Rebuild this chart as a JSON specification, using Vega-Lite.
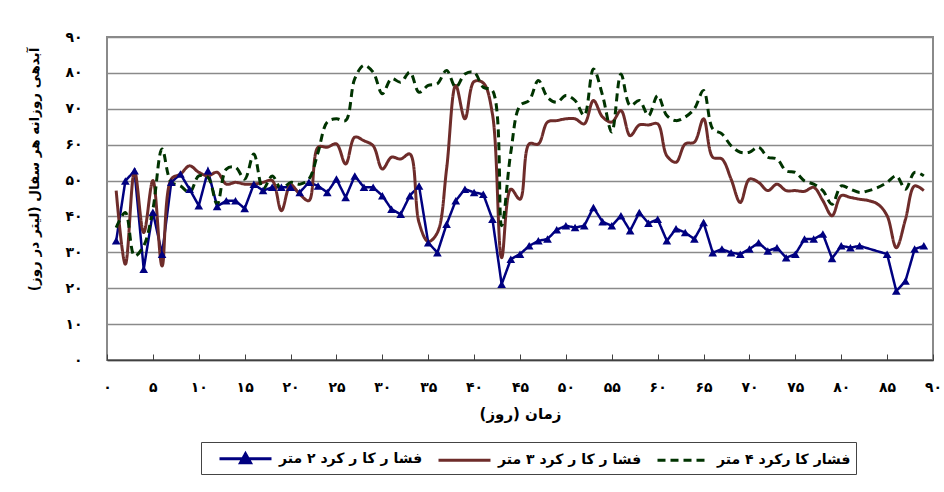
{
"$schema": "https://vega.github.io/schema/vega-lite/v6.json",
"width": 826, "height": 323,
"autosize": {"type": "none"},
"padding": {"left": 107, "top": 37, "right": 11, "bottom": 132},
"background": "white",
"config": {
  "locale": {"number": {"decimal": ".", "thousands": ",", "grouping": [3], "currency": ["", ""], "numerals": ["۰","۱","۲","۳","۴","۵","۶","۷","۸","۹"]}},
  "view": {"stroke": "#8a8a8a", "strokeWidth": 2},
  "font": "DejaVu Sans"
},
"data": {"values": [
{"day":1,"series":"فشا ر کا ر کرد ۲ متر","value":33.2},{"day":2,"series":"فشا ر کا ر کرد ۲ متر","value":49.9},{"day":3,"series":"فشا ر کا ر کرد ۲ متر","value":52.7},{"day":4,"series":"فشا ر کا ر کرد ۲ متر","value":25.3},{"day":5,"series":"فشا ر کا ر کرد ۲ متر","value":41.2},{"day":6,"series":"فشا ر کا ر کرد ۲ متر","value":29.5},{"day":7,"series":"فشا ر کا ر کرد ۲ متر","value":49.5},{"day":8,"series":"فشا ر کا ر کرد ۲ متر","value":51.8},{"day":9,"series":"فشا ر کا ر کرد ۲ متر","value":47.6},{"day":10,"series":"فشا ر کا ر کرد ۲ متر","value":43},
{"day":11,"series":"فشا ر کا ر کرد ۲ متر","value":52.7},{"day":12,"series":"فشا ر کا ر کرد ۲ متر","value":42.8},{"day":13,"series":"فشا ر کا ر کرد ۲ متر","value":44.4},{"day":14,"series":"فشا ر کا ر کرد ۲ متر","value":44.4},{"day":15,"series":"فشا ر کا ر کرد ۲ متر","value":42.2},{"day":16,"series":"فشا ر کا ر کرد ۲ متر","value":49},{"day":17,"series":"فشا ر کا ر کرد ۲ متر","value":47.2},{"day":18,"series":"فشا ر کا ر کرد ۲ متر","value":48.1},{"day":19,"series":"فشا ر کا ر کرد ۲ متر","value":48.1},{"day":20,"series":"فشا ر کا ر کرد ۲ متر","value":48.1},
{"day":21,"series":"فشا ر کا ر کرد ۲ متر","value":46.7},{"day":22,"series":"فشا ر کا ر کرد ۲ متر","value":49.5},{"day":23,"series":"فشا ر کا ر کرد ۲ متر","value":48.5},{"day":24,"series":"فشا ر کا ر کرد ۲ متر","value":46.7},{"day":25,"series":"فشا ر کا ر کرد ۲ متر","value":50.4},{"day":26,"series":"فشا ر کا ر کرد ۲ متر","value":45.3},{"day":27,"series":"فشا ر کا ر کرد ۲ متر","value":51.3},{"day":28,"series":"فشا ر کا ر کرد ۲ متر","value":48.1},{"day":29,"series":"فشا ر کا ر کرد ۲ متر","value":48.1},{"day":30,"series":"فشا ر کا ر کرد ۲ متر","value":45.8},
{"day":31,"series":"فشا ر کا ر کرد ۲ متر","value":42},{"day":32,"series":"فشا ر کا ر کرد ۲ متر","value":40.6},{"day":33,"series":"فشا ر کا ر کرد ۲ متر","value":45.8},{"day":34,"series":"فشا ر کا ر کرد ۲ متر","value":48.5},{"day":35,"series":"فشا ر کا ر کرد ۲ متر","value":32.7},{"day":36,"series":"فشا ر کا ر کرد ۲ متر","value":29.9},{"day":37,"series":"فشا ر کا ر کرد ۲ متر","value":37.8},{"day":38,"series":"فشا ر کا ر کرد ۲ متر","value":44.4},{"day":39,"series":"فشا ر کا ر کرد ۲ متر","value":47.6},{"day":40,"series":"فشا ر کا ر کرد ۲ متر","value":46.7},
{"day":41,"series":"فشا ر کا ر کرد ۲ متر","value":46.2},{"day":42,"series":"فشا ر کا ر کرد ۲ متر","value":39.2},{"day":43,"series":"فشا ر کا ر کرد ۲ متر","value":21.1},{"day":44,"series":"فشا ر کا ر کرد ۲ متر","value":28.1},{"day":45,"series":"فشا ر کا ر کرد ۲ متر","value":29.5},{"day":46,"series":"فشا ر کا ر کرد ۲ متر","value":31.8},{"day":47,"series":"فشا ر کا ر کرد ۲ متر","value":33.2},{"day":48,"series":"فشا ر کا ر کرد ۲ متر","value":33.7},{"day":49,"series":"فشا ر کا ر کرد ۲ متر","value":36.3},{"day":50,"series":"فشا ر کا ر کرد ۲ متر","value":37.4},
{"day":51,"series":"فشا ر کا ر کرد ۲ متر","value":36.9},{"day":52,"series":"فشا ر کا ر کرد ۲ متر","value":37.4},{"day":53,"series":"فشا ر کا ر کرد ۲ متر","value":42.5},{"day":54,"series":"فشا ر کا ر کرد ۲ متر","value":38.5},{"day":55,"series":"فشا ر کا ر کرد ۲ متر","value":37.4},{"day":56,"series":"فشا ر کا ر کرد ۲ متر","value":40.2},{"day":57,"series":"فشا ر کا ر کرد ۲ متر","value":36},{"day":58,"series":"فشا ر کا ر کرد ۲ متر","value":41.1},{"day":59,"series":"فشا ر کا ر کرد ۲ متر","value":38.1},{"day":60,"series":"فشا ر کا ر کرد ۲ متر","value":39.2},
{"day":61,"series":"فشا ر کا ر کرد ۲ متر","value":33.2},{"day":62,"series":"فشا ر کا ر کرد ۲ متر","value":36.6},{"day":63,"series":"فشا ر کا ر کرد ۲ متر","value":35.5},{"day":64,"series":"فشا ر کا ر کرد ۲ متر","value":33.7},{"day":65,"series":"فشا ر کا ر کرد ۲ متر","value":38.3},{"day":66,"series":"فشا ر کا ر کرد ۲ متر","value":29.9},{"day":67,"series":"فشا ر کا ر کرد ۲ متر","value":30.9},{"day":68,"series":"فشا ر کا ر کرد ۲ متر","value":29.9},{"day":69,"series":"فشا ر کا ر کرد ۲ متر","value":29.5},{"day":70,"series":"فشا ر کا ر کرد ۲ متر","value":30.9},
{"day":71,"series":"فشا ر کا ر کرد ۲ متر","value":32.7},{"day":72,"series":"فشا ر کا ر کرد ۲ متر","value":30.4},{"day":73,"series":"فشا ر کا ر کرد ۲ متر","value":31.3},{"day":74,"series":"فشا ر کا ر کرد ۲ متر","value":28.5},{"day":75,"series":"فشا ر کا ر کرد ۲ متر","value":29.5},{"day":76,"series":"فشا ر کا ر کرد ۲ متر","value":33.7},{"day":77,"series":"فشا ر کا ر کرد ۲ متر","value":33.7},{"day":78,"series":"فشا ر کا ر کرد ۲ متر","value":35.1},{"day":79,"series":"فشا ر کا ر کرد ۲ متر","value":28.3},{"day":80,"series":"فشا ر کا ر کرد ۲ متر","value":31.8},
{"day":81,"series":"فشا ر کا ر کرد ۲ متر","value":31.3},{"day":82,"series":"فشا ر کا ر کرد ۲ متر","value":31.8},{"day":85,"series":"فشا ر کا ر کرد ۲ متر","value":29.5},{"day":86,"series":"فشا ر کا ر کرد ۲ متر","value":19.2},{"day":87,"series":"فشا ر کا ر کرد ۲ متر","value":22},{"day":88,"series":"فشا ر کا ر کرد ۲ متر","value":30.9},{"day":89,"series":"فشا ر کا ر کرد ۲ متر","value":31.8},
{"day":1,"series":"فشا ر کا ر کرد ۳ متر","value":47.2},{"day":2,"series":"فشا ر کا ر کرد ۳ متر","value":26.7},{"day":3,"series":"فشا ر کا ر کرد ۳ متر","value":52.7},{"day":4,"series":"فشا ر کا ر کرد ۳ متر","value":35.5},{"day":5,"series":"فشا ر کا ر کرد ۳ متر","value":50},{"day":6,"series":"فشا ر کا ر کرد ۳ متر","value":26.2},{"day":7,"series":"فشا ر کا ر کرد ۳ متر","value":50.4},{"day":8,"series":"فشا ر کا ر کرد ۳ متر","value":51.8},{"day":9,"series":"فشا ر کا ر کرد ۳ متر","value":54.1},{"day":10,"series":"فشا ر کا ر کرد ۳ متر","value":52.3},
{"day":11,"series":"فشا ر کا ر کرد ۳ متر","value":51.3},{"day":12,"series":"فشا ر کا ر کرد ۳ متر","value":52.3},{"day":13,"series":"فشا ر کا ر کرد ۳ متر","value":49},{"day":14,"series":"فشا ر کا ر کرد ۳ متر","value":49.5},{"day":15,"series":"فشا ر کا ر کرد ۳ متر","value":49},{"day":16,"series":"فشا ر کا ر کرد ۳ متر","value":49},{"day":17,"series":"فشا ر کا ر کرد ۳ متر","value":49.5},{"day":18,"series":"فشا ر کا ر کرد ۳ متر","value":50},{"day":19,"series":"فشا ر کا ر کرد ۳ متر","value":41.6},{"day":20,"series":"فشا ر کا ر کرد ۳ متر","value":48.8},
{"day":21,"series":"فشا ر کا ر کرد ۳ متر","value":46.2},{"day":22,"series":"فشا ر کا ر کرد ۳ متر","value":44.4},{"day":23,"series":"فشا ر کا ر کرد ۳ متر","value":59.3},{"day":24,"series":"فشا ر کا ر کرد ۳ متر","value":59.3},{"day":25,"series":"فشا ر کا ر کرد ۳ متر","value":60.2},{"day":26,"series":"فشا ر کا ر کرد ۳ متر","value":54.6},{"day":27,"series":"فشا ر کا ر کرد ۳ متر","value":62.1},{"day":28,"series":"فشا ر کا ر کرد ۳ متر","value":61.1},{"day":29,"series":"فشا ر کا ر کرد ۳ متر","value":59.7},{"day":30,"series":"فشا ر کا ر کرد ۳ متر","value":53.2},
{"day":31,"series":"فشا ر کا ر کرد ۳ متر","value":56.5},{"day":32,"series":"فشا ر کا ر کرد ۳ متر","value":56},{"day":33,"series":"فشا ر کا ر کرد ۳ متر","value":57.4},{"day":34,"series":"فشا ر کا ر کرد ۳ متر","value":38.3},{"day":35,"series":"فشا ر کا ر کرد ۳ متر","value":33},{"day":36,"series":"فشا ر کا ر کرد ۳ متر","value":35.5},{"day":37,"series":"فشا ر کا ر کرد ۳ متر","value":53.2},{"day":38,"series":"فشا ر کا ر کرد ۳ متر","value":76.5},{"day":39,"series":"فشا ر کا ر کرد ۳ متر","value":67.2},{"day":40,"series":"فشا ر کا ر کرد ۳ متر","value":77.6},
{"day":41,"series":"فشا ر کا ر کرد ۳ متر","value":77.2},{"day":42,"series":"فشا ر کا ر کرد ۳ متر","value":68.5},{"day":43,"series":"فشا ر کا ر کرد ۳ متر","value":28.5},{"day":44,"series":"فشا ر کا ر کرد ۳ متر","value":47.6},{"day":45,"series":"فشا ر کا ر کرد ۳ متر","value":44.8},{"day":46,"series":"فشا ر کا ر کرد ۳ متر","value":60.2},{"day":47,"series":"فشا ر کا ر کرد ۳ متر","value":60.2},{"day":48,"series":"فشا ر کا ر کرد ۳ متر","value":66.3},{"day":49,"series":"فشا ر کا ر کرد ۳ متر","value":66.7},{"day":50,"series":"فشا ر کا ر کرد ۳ متر","value":67.2},
{"day":51,"series":"فشا ر کا ر کرد ۳ متر","value":67.2},{"day":52,"series":"فشا ر کا ر کرد ۳ متر","value":65.8},{"day":53,"series":"فشا ر کا ر کرد ۳ متر","value":72.3},{"day":54,"series":"فشا ر کا ر کرد ۳ متر","value":67.7},{"day":55,"series":"فشا ر کا ر کرد ۳ متر","value":66.3},{"day":56,"series":"فشا ر کا ر کرد ۳ متر","value":69.5},{"day":57,"series":"فشا ر کا ر کرد ۳ متر","value":62.5},{"day":58,"series":"فشا ر کا ر کرد ۳ متر","value":65.5},{"day":59,"series":"فشا ر کا ر کرد ۳ متر","value":65.5},{"day":60,"series":"فشا ر کا ر کرد ۳ متر","value":65.8},
{"day":61,"series":"فشا ر کا ر کرد ۳ متر","value":56.9},{"day":62,"series":"فشا ر کا ر کرد ۳ متر","value":55.1},{"day":63,"series":"فشا ر کا ر کرد ۳ متر","value":60.2},{"day":64,"series":"فشا ر کا ر کرد ۳ متر","value":60.7},{"day":65,"series":"فشا ر کا ر کرد ۳ متر","value":67.2},{"day":66,"series":"فشا ر کا ر کرد ۳ متر","value":56.5},{"day":67,"series":"فشا ر کا ر کرد ۳ متر","value":56},{"day":68,"series":"فشا ر کا ر کرد ۳ متر","value":50.4},{"day":69,"series":"فشا ر کا ر کرد ۳ متر","value":43.9},{"day":70,"series":"فشا ر کا ر کرد ۳ متر","value":50.4},
{"day":71,"series":"فشا ر کا ر کرد ۳ متر","value":49.5},{"day":72,"series":"فشا ر کا ر کرد ۳ متر","value":47.2},{"day":73,"series":"فشا ر کا ر کرد ۳ متر","value":49},{"day":74,"series":"فشا ر کا ر کرد ۳ متر","value":47.2},{"day":75,"series":"فشا ر کا ر کرد ۳ متر","value":47.2},{"day":76,"series":"فشا ر کا ر کرد ۳ متر","value":47},{"day":77,"series":"فشا ر کا ر کرد ۳ متر","value":48.1},{"day":78,"series":"فشا ر کا ر کرد ۳ متر","value":44.4},{"day":79,"series":"فشا ر کا ر کرد ۳ متر","value":40.2},{"day":80,"series":"فشا ر کا ر کرد ۳ متر","value":45.8},
{"day":81,"series":"فشا ر کا ر کرد ۳ متر","value":45.3},{"day":82,"series":"فشا ر کا ر کرد ۳ متر","value":44.8},{"day":83,"series":"فشا ر کا ر کرد ۳ متر","value":44.4},{"day":84,"series":"فشا ر کا ر کرد ۳ متر","value":43.4},{"day":85,"series":"فشا ر کا ر کرد ۳ متر","value":40.2},{"day":86,"series":"فشا ر کا ر کرد ۳ متر","value":31.3},{"day":87,"series":"فشا ر کا ر کرد ۳ متر","value":39.2},{"day":88,"series":"فشا ر کا ر کرد ۳ متر","value":48.5},{"day":89,"series":"فشا ر کا ر کرد ۳ متر","value":47.2},
{"day":1,"series":"فشار کا رکرد ۴ متر","value":36.9},{"day":2,"series":"فشار کا رکرد ۴ متر","value":41.1},{"day":3,"series":"فشار کا رکرد ۴ متر","value":29},{"day":4,"series":"فشار کا رکرد ۴ متر","value":31.8},{"day":5,"series":"فشار کا رکرد ۴ متر","value":42},{"day":6,"series":"فشار کا رکرد ۴ متر","value":58.8},{"day":7,"series":"فشار کا رکرد ۴ متر","value":49.5},{"day":8,"series":"فشار کا رکرد ۴ متر","value":48.5},{"day":9,"series":"فشار کا رکرد ۴ متر","value":46.7},{"day":10,"series":"فشار کا رکرد ۴ متر","value":51.3},
{"day":11,"series":"فشار کا رکرد ۴ متر","value":50.9},{"day":12,"series":"فشار کا رکرد ۴ متر","value":43.4},{"day":13,"series":"فشار کا رکرد ۴ متر","value":53.2},{"day":14,"series":"فشار کا رکرد ۴ متر","value":53.7},{"day":15,"series":"فشار کا رکرد ۴ متر","value":50.4},{"day":16,"series":"فشار کا رکرد ۴ متر","value":57.4},{"day":17,"series":"فشار کا رکرد ۴ متر","value":47.6},{"day":18,"series":"فشار کا رکرد ۴ متر","value":51.3},{"day":19,"series":"فشار کا رکرد ۴ متر","value":47.6},{"day":20,"series":"فشار کا رکرد ۴ متر","value":49.5},
{"day":21,"series":"فشار کا رکرد ۴ متر","value":49},{"day":22,"series":"فشار کا رکرد ۴ متر","value":50.4},{"day":23,"series":"فشار کا رکرد ۴ متر","value":57.9},{"day":24,"series":"فشار کا رکرد ۴ متر","value":66.3},{"day":25,"series":"فشار کا رکرد ۴ متر","value":67.2},{"day":26,"series":"فشار کا رکرد ۴ متر","value":66.7},{"day":27,"series":"فشار کا رکرد ۴ متر","value":78.4},{"day":28,"series":"فشار کا رکرد ۴ متر","value":82.1},{"day":29,"series":"فشار کا رکرد ۴ متر","value":80.2},{"day":30,"series":"فشار کا رکرد ۴ متر","value":74.2},
{"day":31,"series":"فشار کا رکرد ۴ متر","value":78.4},{"day":32,"series":"فشار کا رکرد ۴ متر","value":77.4},{"day":33,"series":"فشار کا رکرد ۴ متر","value":80.2},{"day":34,"series":"فشار کا رکرد ۴ متر","value":74.6},{"day":35,"series":"فشار کا رکرد ۴ متر","value":76.5},{"day":36,"series":"فشار کا رکرد ۴ متر","value":77},{"day":37,"series":"فشار کا رکرد ۴ متر","value":80.7},{"day":38,"series":"فشار کا رکرد ۴ متر","value":76},{"day":39,"series":"فشار کا رکرد ۴ متر","value":79.7},{"day":40,"series":"فشار کا رکرد ۴ متر","value":80.2},
{"day":41,"series":"فشار کا رکرد ۴ متر","value":76},{"day":42,"series":"فشار کا رکرد ۴ متر","value":75.1},{"day":43,"series":"فشار کا رکرد ۴ متر","value":37.4},{"day":44,"series":"فشار کا رکرد ۴ متر","value":57.9},{"day":45,"series":"فشار کا رکرد ۴ متر","value":70.9},{"day":46,"series":"فشار کا رکرد ۴ متر","value":72.3},{"day":47,"series":"فشار کا رکرد ۴ متر","value":77.9},{"day":48,"series":"فشار کا رکرد ۴ متر","value":73.2},{"day":49,"series":"فشار کا رکرد ۴ متر","value":71.8},{"day":50,"series":"فشار کا رکرد ۴ متر","value":73.7},
{"day":51,"series":"فشار کا رکرد ۴ متر","value":72.3},{"day":52,"series":"فشار کا رکرد ۴ متر","value":68.1},{"day":53,"series":"فشار کا رکرد ۴ متر","value":81.1},{"day":54,"series":"فشار کا رکرد ۴ متر","value":73.7},{"day":55,"series":"فشار کا رکرد ۴ متر","value":63.5},{"day":56,"series":"فشار کا رکرد ۴ متر","value":79.7},{"day":57,"series":"فشار کا رکرد ۴ متر","value":70.9},{"day":58,"series":"فشار کا رکرد ۴ متر","value":72.3},{"day":59,"series":"فشار کا رکرد ۴ متر","value":68.1},{"day":60,"series":"فشار کا رکرد ۴ متر","value":73.7},
{"day":61,"series":"فشار کا رکرد ۴ متر","value":68.1},{"day":62,"series":"فشار کا رکرد ۴ متر","value":66.7},{"day":63,"series":"فشار کا رکرد ۴ متر","value":67.7},{"day":64,"series":"فشار کا رکرد ۴ متر","value":70},{"day":65,"series":"فشار کا رکرد ۴ متر","value":75.1},{"day":66,"series":"فشار کا رکرد ۴ متر","value":64.4},{"day":67,"series":"فشار کا رکرد ۴ متر","value":63},{"day":68,"series":"فشار کا رکرد ۴ متر","value":59.7},{"day":69,"series":"فشار کا رکرد ۴ متر","value":57.9},{"day":70,"series":"فشار کا رکرد ۴ متر","value":57.9},
{"day":71,"series":"فشار کا رکرد ۴ متر","value":59.3},{"day":72,"series":"فشار کا رکرد ۴ متر","value":56.5},{"day":73,"series":"فشار کا رکرد ۴ متر","value":56},{"day":74,"series":"فشار کا رکرد ۴ متر","value":52.7},{"day":75,"series":"فشار کا رکرد ۴ متر","value":52.3},{"day":76,"series":"فشار کا رکرد ۴ متر","value":49.9},{"day":77,"series":"فشار کا رکرد ۴ متر","value":49},{"day":78,"series":"فشار کا رکرد ۴ متر","value":47.2},{"day":79,"series":"فشار کا رکرد ۴ متر","value":43.4},{"day":80,"series":"فشار کا رکرد ۴ متر","value":48.5},
{"day":81,"series":"فشار کا رکرد ۴ متر","value":47.6},{"day":82,"series":"فشار کا رکرد ۴ متر","value":46.7},{"day":83,"series":"فشار کا رکرد ۴ متر","value":47.2},{"day":84,"series":"فشار کا رکرد ۴ متر","value":48.1},{"day":85,"series":"فشار کا رکرد ۴ متر","value":49.5},{"day":86,"series":"فشار کا رکرد ۴ متر","value":51.3},{"day":87,"series":"فشار کا رکرد ۴ متر","value":47.6},{"day":88,"series":"فشار کا رکرد ۴ متر","value":52.3},{"day":89,"series":"فشار کا رکرد ۴ متر","value":51.3}
]},
"encoding": {
  "x": {"field": "day", "type": "quantitative",
    "scale": {"domain": [0, 90], "nice": false},
    "axis": {"title": "زمان (روز)", "values": [0,5,10,15,20,25,30,35,40,45,50,55,60,65,70,75,80,85,90],
      "grid": false, "domainColor": "#404040", "domainWidth": 1.5, "tickColor": "#404040", "tickSize": -6,
      "labelFontSize": 14, "labelFontWeight": "bold", "labelColor": "black", "labelPadding": 26, "labelFlush": false,
      "titleFontSize": 15, "titleFontWeight": "bold", "titleColor": "black", "titleY": 53, "titleBaseline": "middle"}},
  "y": {"field": "value", "type": "quantitative",
    "scale": {"domain": [0, 90], "nice": false},
    "axis": {"title": "آبدهی روزانه هر سفال (لیتر در روز)", "values": [0,10,20,30,40,50,60,70,80,90],
      "grid": true, "gridColor": "#8a8a8a", "gridWidth": 1.5, "domain": false, "ticks": false,
      "labelFontSize": 14, "labelFontWeight": "bold", "labelColor": "black", "labelPadding": 25,
      "titleFontSize": 13.5, "titleFontWeight": "bold", "titleColor": "black", "titleX": -73, "titleY": 132, "titleAngle": -90, "titleAlign": "center", "titleBaseline": "middle"}}
},
"layer": [
  {"transform": [{"filter": {"field": "series", "equal": "فشا ر کا ر کرد ۲ متر"}}],
   "mark": {"type": "line", "strokeWidth": 2.5},
   "encoding": {
     "color": {"field": "series", "type": "nominal",
       "scale": {"domain": ["فشا ر کا ر کرد ۲ متر", "فشا ر کا ر کرد ۳ متر", "فشار کا رکرد ۴ متر"], "range": ["#000080", "#6e2c2a", "#003300"]},
       "legend": {"orient": "none", "legendX": 94, "legendY": 405, "direction": "horizontal", "title": null,
         "symbolType": "stroke", "symbolSize": 400, "symbolStrokeWidth": 3, "gridAlign": "each",
         "labelFontSize": 14, "labelFontWeight": "bold", "labelColor": "black", "labelLimit": 300, "labelOffset": 50,
         "strokeColor": "#444444", "padding": 5, "columnPadding": 2,
         "encode": {"symbols": {"update": {
           "shape": {"signal": "datum.index === 0 ? 'M0.2,0H5.4M2.8,-0.5L3.3,0.4L2.3,0.4Z' : 'M0.2,0H5.4'"},
           "fill": {"signal": "datum.index === 0 ? '#000080' : 'transparent'"}}}}}},
     "strokeDash": {"field": "series", "type": "nominal",
       "scale": {"domain": ["فشا ر کا ر کرد ۲ متر", "فشا ر کا ر کرد ۳ متر", "فشار کا رکرد ۴ متر"], "range": [[1,0],[1,0],[8,5]]}}
   }},
  {"transform": [{"filter": {"not": {"field": "series", "equal": "فشا ر کا ر کرد ۲ متر"}}}],
   "mark": {"type": "line", "strokeWidth": 3, "interpolate": "catmull-rom"},
   "encoding": {
     "color": {"field": "series", "type": "nominal"},
     "strokeDash": {"field": "series", "type": "nominal"}
   }},
  {"transform": [{"filter": {"field": "series", "equal": "فشا ر کا ر کرد ۲ متر"}}],
   "mark": {"type": "point", "shape": "triangle-up", "filled": true, "size": 75, "color": "#000080", "opacity": 1}}
]
}
